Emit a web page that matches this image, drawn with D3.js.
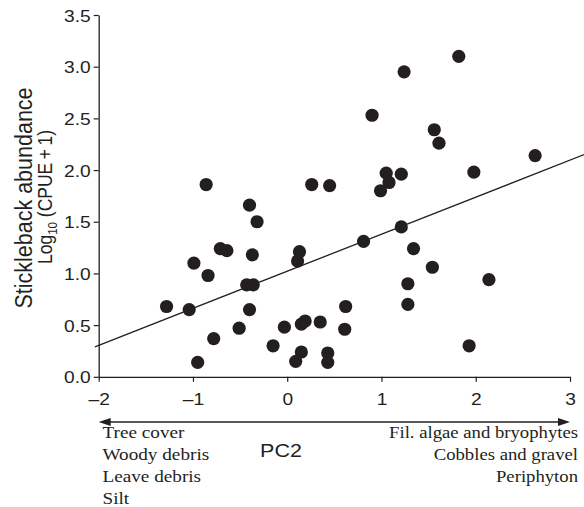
<!DOCTYPE html>
<html><head><meta charset="utf-8">
<script src="https://cdn.jsdelivr.net/npm/d3@7"></script>
<style>html,body{margin:0;padding:0;background:#fff;}svg{display:block;}</style>
</head><body>
<script>
// PC2 scores of sites
const pc2 = [-1.28,-1.04,-0.99,-0.95,-0.86,-0.84,-0.78,-0.71,-0.64,-0.51,
  -0.43,-0.40,-0.40,-0.37,-0.36,-0.32,-0.15,-0.03,0.09,0.11,
  0.13,0.15,0.15,0.19,0.26,0.35,0.43,0.43,0.45,0.61,
  0.62,0.81,0.90,0.99,1.05,1.08,1.21,1.21,1.24,1.28,
  1.28,1.34,1.54,1.56,1.61,1.82,1.93,1.98,2.14,2.63];
// Stickleback abundance log10(CPUE+1)
const abundance = [0.68,0.65,1.10,0.14,1.86,0.98,0.37,1.24,1.22,0.47,
  0.89,1.66,0.65,1.18,0.89,1.50,0.30,0.48,0.15,1.12,
  1.21,0.51,0.24,0.54,1.86,0.53,0.23,0.14,1.85,0.46,
  0.68,1.31,2.53,1.80,1.97,1.88,1.96,1.45,2.95,0.90,
  0.70,1.24,1.06,2.39,2.26,3.10,0.30,1.98,0.94,2.14];
// fitted regression line endpoints
const fitX = [-2.04, 3.15];
const fitY = [0.29, 2.15];
const xTicks = [-2,-1,0,1,2,3];
const yTicks = [0,0.5,1,1.5,2,2.5,3,3.5];
const leftLabels = ["Tree cover","Woody debris","Leave debris","Silt"];
const rightLabels = ["Fil. algae and bryophytes","Cobbles and gravel","Periphyton"];

const W = 584, H = 507;
const ink = "#231f20";
const sans = "'Liberation Sans', Arial, Helvetica, sans-serif";
const serif = "'Liberation Serif', 'Times New Roman', serif";
const sx = 1.13; // horizontal stretch of lettering in the original

const svg = d3.select("body").append("svg").attr("width", W).attr("height", H);
const x = d3.scaleLinear().domain([-2, 3]).range([98.7, 570]);
const y = d3.scaleLinear().domain([0, 3.5]).range([376.8, 15]);

// regression line
svg.append("line")
  .attr("x1", x(fitX[0])).attr("y1", y(fitY[0]))
  .attr("x2", x(fitX[1])).attr("y2", y(fitY[1]))
  .attr("stroke", ink).attr("stroke-width", 1.3);

// axes
const xAxis = svg.append("g").attr("transform", `translate(0,${y(0)})`)
  .call(d3.axisBottom(x).tickValues(xTicks).tickSize(5).tickSizeOuter(0)
    .tickFormat(d => d < 0 ? "\u2013" + Math.abs(d) : d));
const yAxis = svg.append("g").attr("transform", `translate(${x(-2)},0)`)
  .call(d3.axisLeft(y).tickValues(yTicks).tickSize(5).tickSizeOuter(0)
    .tickFormat(d3.format(".1f")));
[xAxis, yAxis].forEach(g => {
  g.select(".domain").attr("stroke", ink).attr("stroke-width", 1.3);
  g.selectAll(".tick line").attr("stroke", ink).attr("stroke-width", 1.2);
  g.selectAll(".tick text").attr("fill", ink).attr("font-family", sans).attr("font-size", 17);
});
xAxis.selectAll(".tick text").attr("dy", null).attr("y", 0)
  .attr("transform", `translate(0,28) scale(${sx},1)`);
yAxis.selectAll(".tick text").attr("x", 0).attr("dy", "0.36em")
  .attr("transform", `translate(-8,0) scale(${sx},1)`);

// points
svg.append("g").selectAll("circle").data(pc2.map((v, i) => [v, abundance[i]]))
  .join("circle")
  .attr("cx", d => x(d[0])).attr("cy", d => y(d[1])).attr("r", 6.6)
  .attr("fill", ink);

// y label
svg.append("text").attr("transform", `translate(32,198) scale(${sx},1) rotate(-90)`)
  .attr("text-anchor", "middle").attr("font-family", sans).attr("font-size", 21.5).attr("fill", ink)
  .text("Stickleback abundance");
const yl2 = svg.append("text").attr("transform", `translate(52,197) scale(${sx},1) rotate(-90)`)
  .attr("text-anchor", "middle").attr("font-family", sans).attr("font-size", 17.5).attr("fill", ink);
yl2.append("tspan").text("Log");
yl2.append("tspan").attr("font-size", 11.5).attr("dy", 4).text("10");
yl2.append("tspan").attr("dy", -4).text(" (CPUE\u2009+\u20091)");

// double-headed arrow
const ay = 422, ax0 = x(-2), ax1 = x(3);
svg.append("line").attr("x1", ax0 + 6).attr("x2", ax1 - 6).attr("y1", ay).attr("y2", ay)
  .attr("stroke", ink).attr("stroke-width", 1.4);
svg.append("path").attr("d", `M${ax0},${ay}L${ax0+12},${ay-4}L${ax0+12},${ay+4}Z`).attr("fill", ink);
svg.append("path").attr("d", `M${ax1},${ay}L${ax1-12},${ay-4}L${ax1-12},${ay+4}Z`).attr("fill", ink);

// PC2 title
svg.append("text").attr("transform", `translate(281,457) scale(${sx},1)`).attr("text-anchor", "middle")
  .attr("font-family", sans).attr("font-size", 19).attr("fill", ink).text("PC2");

// habitat descriptors
svg.append("g").selectAll("text").data(leftLabels).join("text")
  .attr("transform", (d, i) => `translate(102.5,${437.5 + i * 22}) scale(${sx},1)`)
  .attr("font-family", serif).attr("font-size", 17).attr("fill", ink).text(d => d);
svg.append("g").selectAll("text").data(rightLabels).join("text")
  .attr("transform", (d, i) => `translate(578,${437.5 + i * 22}) scale(1.1,1)`)
  .attr("text-anchor", "end")
  .attr("font-family", serif).attr("font-size", 17).attr("fill", ink).text(d => d);
</script>
</body></html>
